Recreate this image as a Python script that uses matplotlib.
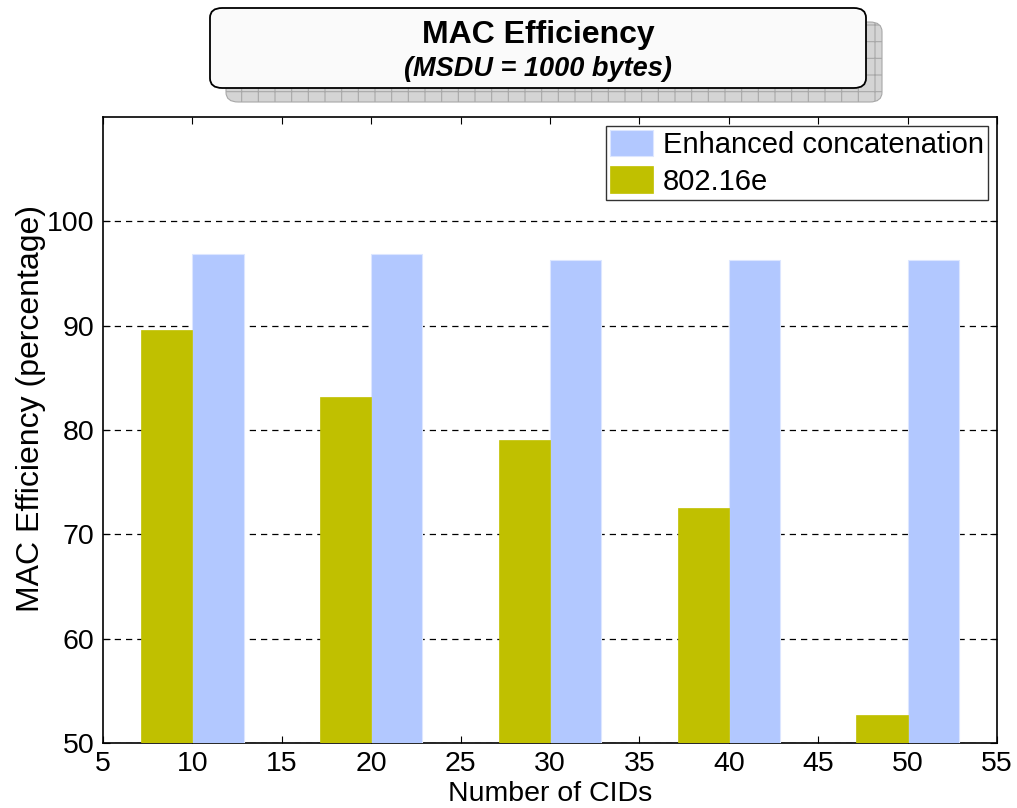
import matplotlib
matplotlib.use("Agg")
import matplotlib.pyplot as plt
from matplotlib.patches import FancyBboxPatch
import numpy as np

plt.rcParams['font.family'] = ['Liberation Sans', 'DejaVu Sans']
plt.rcParams['hatch.linewidth'] = 0.8

# ---- data ----
cids = [10, 20, 30, 40, 50]
eff_802 = [89.6, 83.2, 79.0, 72.5, 52.7]
eff_enh = [96.9, 96.9, 96.3, 96.3, 96.3]
series_names = ["Enhanced concatenation", "802.16e"]
xticks = [5, 10, 15, 20, 25, 30, 35, 40, 45, 50, 55]
yticks = [50, 60, 70, 80, 90, 100]

W, H = 1017, 808
fig = plt.figure(figsize=(W / 100, H / 100), dpi=100)
ax = fig.add_axes([103 / W, 1 - 743 / H, (997 - 103) / W, (743 - 117) / H])

bw = 2.86
x = np.array(cids, dtype=float)
b_enh = ax.bar(x + bw / 2, eff_enh, width=bw, color='#b2c8ff', edgecolor='#dce6ff',
               linewidth=0.8, zorder=3, label=series_names[0])
b_802 = ax.bar(x - bw / 2, eff_802, width=bw, color='#c0c000', edgecolor='#c0c000',
               linewidth=0.5, zorder=3, label=series_names[1])

ax.set_xlim(5, 55)
ax.set_ylim(50, 110)
ax.set_xticks(xticks)
ax.set_yticks(yticks)
ax.tick_params(direction='in', top=True, right=True, labelsize=20.5, length=5,
               width=0.8, pad=6)
ax.yaxis.grid(True, linestyle=(0, (5, 4)), color='black', linewidth=0.9, zorder=1)
ax.set_axisbelow(True)
for s in ax.spines.values():
    s.set_linewidth(1.2)

ax.set_xlabel("Number of CIDs", fontsize=20.5)
ax.xaxis.set_label_coords(0.5, -0.061)
ax.set_ylabel("MAC Efficiency (percentage)", fontsize=23)
ax.yaxis.set_label_coords(-0.064, 0.535)

leg = ax.legend(handles=[b_enh, b_802], loc='upper right', fontsize=21,
                frameon=True, fancybox=False, edgecolor='black',
                borderaxespad=0.3, handlelength=1.45, handleheight=1.0,
                handletextpad=0.35, borderpad=0.15, labelspacing=0.25)
leg.get_frame().set_linewidth(1.0)

# ---- title box with shadow ----
bx0, by0, bx1, by1 = 210, 8, 866, 88
off_x, off_y = 16, 14
shadow = FancyBboxPatch(((bx0 + off_x) / W, 1 - (by1 + off_y) / H),
                        (bx1 - bx0) / W, (by1 - by0) / H,
                        boxstyle="round,pad=0,rounding_size=0.012",
                        transform=fig.transFigure, facecolor='#d4d4d4',
                        edgecolor='#a8a8a8', hatch='+', linewidth=0.8, zorder=1)
fig.patches.append(shadow)
box = FancyBboxPatch((bx0 / W, 1 - by1 / H), (bx1 - bx0) / W, (by1 - by0) / H,
                     boxstyle="round,pad=0,rounding_size=0.012",
                     transform=fig.transFigure, facecolor='#fafafa',
                     edgecolor='black', linewidth=1.3, zorder=2)
fig.patches.append(box)
fig.text((bx0 + bx1) / 2 / W, 1 - 35 / H, "MAC Efficiency", ha='center', va='center',
         fontsize=23, fontweight='bold', zorder=3)
fig.text((bx0 + bx1) / 2 / W, 1 - 69 / H, "(MSDU = 1000 bytes)", ha='center',
         va='center', fontsize=19.5, fontweight='bold', fontstyle='italic', zorder=3)

fig.savefig("out.png", dpi=100)
